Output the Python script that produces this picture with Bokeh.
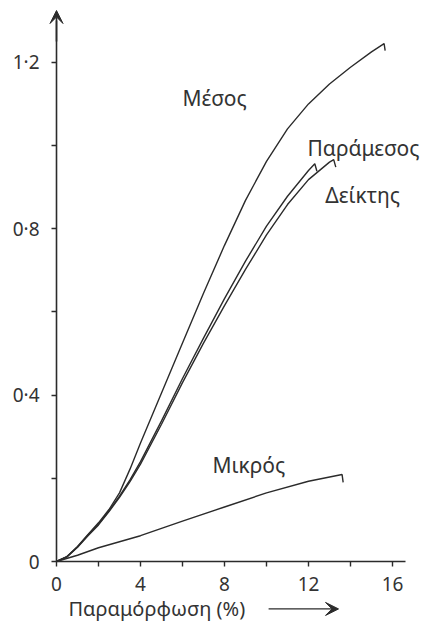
from bokeh.plotting import figure
from bokeh.models import Range1d, FixedTicker, Label, Arrow, VeeHead
from bokeh.embed import file_html
from bokeh.resources import INLINE

# ---- data ----
mesos_x = [0, 0.5, 1, 1.5, 2, 2.5, 3, 3.5, 4, 4.5, 5, 6, 7, 8, 9, 10, 11, 12, 13, 14, 15, 15.6, 15.65]
mesos_y = [0, 0.012, 0.036, 0.065, 0.093, 0.125, 0.165, 0.222, 0.285, 0.345, 0.405, 0.525, 0.645, 0.76, 0.868, 0.962, 1.04, 1.10, 1.148, 1.188, 1.225, 1.245, 1.228]

paramesos_x = [0, 0.5, 1, 1.5, 2, 2.5, 3, 3.5, 4, 5, 6, 7, 8, 9, 10, 11, 12, 12.3, 12.4]
paramesos_y = [0, 0.012, 0.035, 0.064, 0.09, 0.122, 0.157, 0.196, 0.24, 0.338, 0.44, 0.537, 0.632, 0.722, 0.806, 0.878, 0.94, 0.956, 0.938]

deiktis_x = [0, 0.5, 1, 1.5, 2, 2.5, 3, 3.5, 4, 5, 6, 7, 8, 9, 10, 11, 12, 13, 13.2, 13.3]
deiktis_y = [0, 0.011, 0.034, 0.062, 0.088, 0.12, 0.154, 0.192, 0.234, 0.33, 0.43, 0.525, 0.615, 0.702, 0.785, 0.858, 0.918, 0.96, 0.966, 0.948]

mikros_x = [0, 1, 2, 4, 6, 8, 10, 12, 13.6, 13.65]
mikros_y = [0, 0.015, 0.033, 0.062, 0.097, 0.131, 0.165, 0.193, 0.209, 0.19]

series_names = ["Μέσος", "Παράμεσος", "Δείκτης", "Μικρός"]
label_pos_x = [6.0, 11.95, 12.8, 7.43]
label_pos_y = [1.113, 0.993, 0.880, 0.231]

x_ticks = [0, 4, 8, 12, 16]
x_minor = [2, 6, 10, 14]
x_tick_labels = ["0", "4", "8", "12", "16"]
y_ticks = [0, 0.4, 0.8, 1.2]
y_minor = [0.2, 0.6, 1.0]
y_tick_labels = ["0", "0·4", "0·8", "1·2"]
x_title = "Παραμόρφωση (%)"

FONT = "Noto Sans"
INK = "#2b2b2b"
TXT = "#333333"

W, H = 422, 623
OX, OY = 56, 561          # pixel position of the origin
SX, SY = 21.0, 416.0      # pixels per unit
X0, X1 = -OX / SX, (W - OX) / SX
Y0, Y1 = (OY - H) / SY, OY / SY

p = figure(width=W, height=H, output_backend="svg", toolbar_location=None,
           x_range=Range1d(X0, X1), y_range=Range1d(Y0, Y1),
           min_border=0, min_border_left=0, min_border_right=0, min_border_top=0, min_border_bottom=0)
p.grid.visible = False
p.outline_line_color = None
p.background_fill_color = "white"

for xs, ys in [(mesos_x, mesos_y), (paramesos_x, paramesos_y), (deiktis_x, deiktis_y), (mikros_x, mikros_y)]:
    p.line(xs, ys, line_color=INK, line_width=1.4)

for name, lx, ly in zip(series_names, label_pos_x, label_pos_y):
    p.add_layout(Label(x=lx, y=ly, text=name, text_font=FONT, text_font_size="21px",
                       text_color=TXT, text_baseline="alphabetic", text_align="left"))

for ax in (p.xaxis[0], p.yaxis[0]):
    ax.fixed_location = 0
    ax.axis_line_color = INK
    ax.axis_line_width = 1.6
    ax.major_tick_line_color = INK
    ax.minor_tick_line_color = INK
    ax.major_tick_line_width = 1.4
    ax.minor_tick_line_width = 1.4
    ax.major_tick_in = 0
    ax.major_tick_out = 5
    ax.minor_tick_in = 0
    ax.minor_tick_out = 5
    ax.major_label_text_font = FONT
    ax.major_label_text_font_size = "19px"
    ax.major_label_text_color = TXT

p.xaxis.bounds = (0, 16.62)
p.yaxis.bounds = (0, 1.3)
p.xaxis.ticker = FixedTicker(ticks=x_ticks, minor_ticks=x_minor)
p.yaxis.ticker = FixedTicker(ticks=y_ticks, minor_ticks=y_minor)
p.xaxis.major_label_overrides = dict(zip(x_ticks, x_tick_labels))
p.yaxis.major_label_overrides = dict(zip(y_ticks, y_tick_labels))
p.xaxis.major_label_standoff = 10
p.yaxis.major_label_standoff = 12

# y-axis arrowhead
p.add_layout(Arrow(x_start=0, y_start=1.25, x_end=0, y_end=1.3245, line_color=INK, line_width=1.6,
                   end=VeeHead(size=13, fill_color=INK, line_color=INK, line_width=1)))

# x title with arrow
p.add_layout(Label(x=0.57, y=-0.112, text=x_title, text_font=FONT, text_font_size="20px",
                   text_color=TXT, text_baseline="alphabetic", text_align="left"))
p.add_layout(Arrow(x_start=10.1, y_start=-0.114, x_end=13.43, y_end=-0.114, line_color=INK, line_width=1.4,
                   end=VeeHead(size=13, fill_color=INK, line_color=INK, line_width=1)))

open("out.html", "w").write(file_html(p, INLINE))
